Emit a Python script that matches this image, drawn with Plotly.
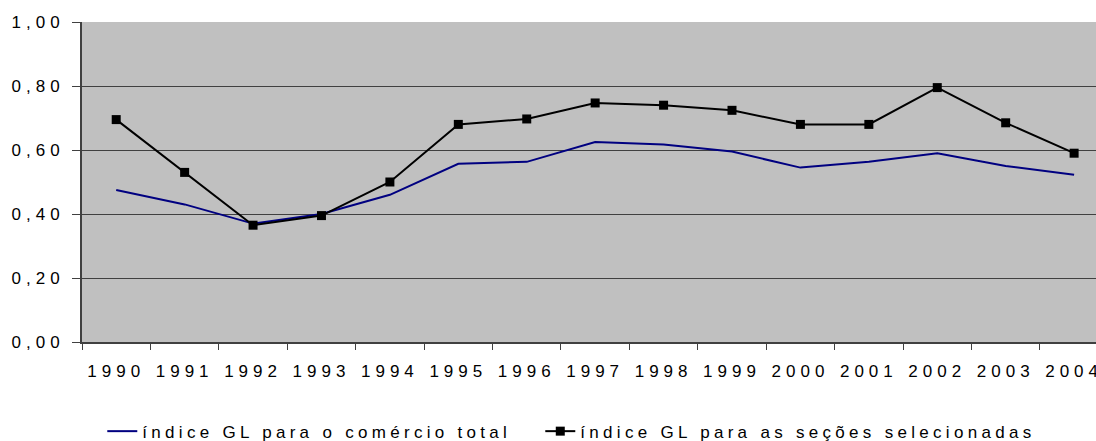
import plotly.graph_objects as go

years = ["1990", "1991", "1992", "1993", "1994", "1995", "1996", "1997",
         "1998", "1999", "2000", "2001", "2002", "2003", "2004"]
gl_total = [0.475, 0.430, 0.370, 0.400, 0.460, 0.557, 0.563, 0.625,
            0.617, 0.595, 0.545, 0.563, 0.590, 0.550, 0.523]
gl_selected = [0.695, 0.530, 0.365, 0.395, 0.500, 0.680, 0.697, 0.747,
               0.740, 0.724, 0.680, 0.680, 0.795, 0.685, 0.590]
name_total = "índice GL para o comércio total"
name_selected = "índice GL para as seções selecionadas"
y_ticks = [0.0, 0.2, 0.4, 0.6, 0.8, 1.0]

FONT = "Arial, 'Liberation Sans', sans-serif"

fig = go.Figure()
fig.add_trace(go.Scatter(
    x=years, y=gl_total, mode="lines", name=name_total,
    line=dict(color="#000080", width=2)))
fig.add_trace(go.Scatter(
    x=years, y=gl_selected, mode="lines+markers", name=name_selected,
    line=dict(color="#000000", width=2),
    marker=dict(symbol="square", size=9, color="#000000")))

fig.update_layout(
    width=1096, height=441,
    margin=dict(l=82, r=0, t=22, b=99, autoexpand=False),
    paper_bgcolor="#ffffff",
    plot_bgcolor="#c0c0c0",
    separators=", ",
    font=dict(family=FONT, size=17, color="#000000"),
    showlegend=True,
    legend=dict(orientation="h", x=0.020, y=-0.28, xanchor="left", yanchor="middle",
                entrywidth=393, entrywidthmode="pixels",
                font=dict(family=FONT, size=17, color="#000000"),
                bgcolor="rgba(0,0,0,0)", itemwidth=30, tracegroupgap=0),
)
fig.update_xaxes(
    type="category", range=[-0.5, 14.32],
    showline=True, linecolor="#404040", linewidth=2,
    ticks="outside", ticklen=6, tickwidth=1, tickcolor="#404040",
    tickson="boundaries", showgrid=False, zeroline=False,
    tickfont=dict(family=FONT, size=17, color="#000000"),
    ticklabelstandoff=13,
)
fig.update_yaxes(
    range=[0, 1.0], tickvals=y_ticks, tickformat=".2f",
    showline=True, linecolor="#404040", linewidth=2,
    ticks="outside", ticklen=8, tickwidth=1, tickcolor="#404040",
    showgrid=True, gridcolor="#404040", gridwidth=1, zeroline=False,
    tickfont=dict(family=FONT, size=17, color="#000000"),
    ticklabelstandoff=4,
)

post = """
var st=document.createElement('style');
st.textContent='html,body{margin:0;padding:0;overflow:hidden;} .xtick text,.ytick text{letter-spacing:5px;} .legendtext{letter-spacing:4.3px;} .legend .scrollbox, .legend g{clip-path:none !important;}';
document.head.appendChild(st);
"""
fig.write_html("out.html", post_script=post, config={"displayModeBar": False})
